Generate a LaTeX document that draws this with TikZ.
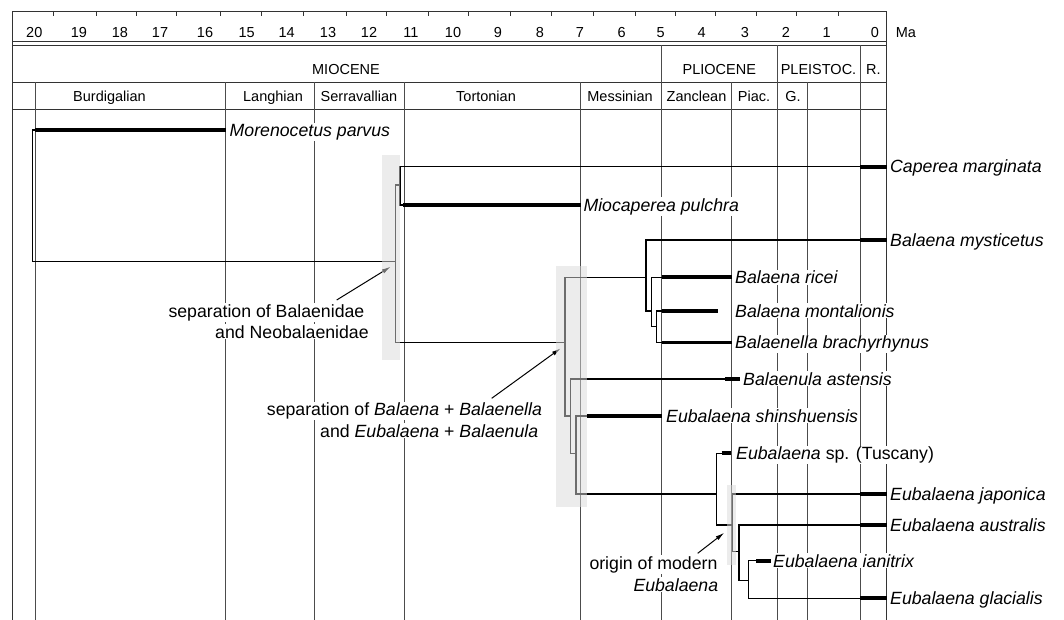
\documentclass[tikz,border=0pt]{standalone}
\usepackage{fontspec}
\setmainfont{Liberation Sans}
\usetikzlibrary{arrows.meta}
\begin{document}
\begin{tikzpicture}[x=1pt,y=-1pt,
  framel/.style={line width=0.8pt, black!80},
  gridl/.style={line width=0.8pt, black!70},
  branch/.style={line width=1.1pt, black},
  barl/.style={line width=3.8pt, black},
  hdr/.style={anchor=base, inner sep=0pt, font=\fontsize{14.5}{17}\selectfont},
  spec/.style={anchor=base west, inner sep=1pt, fill=white, yshift=-6.3pt, font=\fontsize{17.7}{20}\selectfont\itshape},
  specup/.style={anchor=base west, inner sep=1pt, fill=white, yshift=-6.3pt, font=\fontsize{17.7}{20}\selectfont},
  ann/.style={anchor=base west, inner sep=1pt, fill=white, yshift=-6.3pt, font=\fontsize{17.7}{20}\selectfont},
  arr/.style={line width=1pt, -{Latex[length=9pt,width=4.5pt]}},
  shade/.style={fill=black!14, fill opacity=0.5}
]
\useasboundingbox (0,0) rectangle (1064,620);
\fill[white] (0,0) rectangle (1064,620);

% ---- header frame ----
\draw[framel] (12.3,625) -- (12.3,11) -- (886.7,11) -- (886.7,625);
\foreach \yy in {41,45.3,82.4,109.3} \draw[framel] (12.3,\yy) -- (886.7,\yy);
\foreach \xx in {53.3,96,136.7,176.7,220,261.7,303.3,346.7,386,428.3,468.3,510,551.7,593.3,635,675,715,756,796.7,838.3}
  \draw[framel] (\xx,11) -- (\xx,16.5);
\foreach \xx in {661.7,777,860} \draw[gridl] (\xx,45.3) -- (\xx,625);
\foreach \xx in {35,225.7,314,404,580.7,731,807.7} \draw[gridl] (\xx,82.4) -- (\xx,625);

% ---- axis numbers ----
\foreach \xx/\t in {34.3/20,79/19,120/18,160/17,205/16,246.7/15,286.7/14,328/13,369/12,411/11,453/10,498/9,540/8,580/7,621.7/6,660.7/5,701.7/4,745/3,786/2,826.7/1,875/0}
  \node[hdr, name=num\t] at (\xx,37.4) {\t};
\node[hdr, anchor=base west] (ma) at (895.7,37.8) {Ma};

% ---- epochs ----
\node[hdr] (miocene) at (346,74.2) {MIOCENE};
\node[hdr] (pliocene) at (719.3,74.2) {PLIOCENE};
\node[hdr] (pleistoc) at (818.5,74.2) {PLEISTOC.};
\node[hdr] (recent) at (873.3,74.2) {R.};

% ---- stages ----
\node[hdr] (burd) at (109.5,101.7) {Burdigalian};
\node[hdr] (lang) at (273,101.7) {Langhian};
\node[hdr] (serr) at (359,101.7) {Serravallian};
\node[hdr] (tort) at (486,101.7) {Tortonian};
\node[hdr] (mess) at (620,101.7) {Messinian};
\node[hdr] (zanc) at (696.5,101.7) {Zanclean};
\node[hdr] (piac) at (754,101.7) {Piac.};
\node[hdr] (gela) at (793,101.7) {G.};

% ---- tree nodes ----
\coordinate (R)  at (32.3,196);
\coordinate (N1) at (395.7,261.7);
\coordinate (N2) at (400,185);
\coordinate (D)  at (565,342.7);
\coordinate (A)  at (646,277.3);
\coordinate (B)  at (651.7,311);
\coordinate (C)  at (656.7,326.7);
\coordinate (E)  at (570.7,416);
\coordinate (F)  at (576,453.3);
\coordinate (G)  at (716.7,494);
\coordinate (H)  at (732.7,525);
\coordinate (I)  at (739,551.7);
\coordinate (J)  at (748.3,580.7);
% tips (start of range bar) and ends
\coordinate (tMor) at (35,130);      \coordinate (eMor) at (225.7,130);
\coordinate (tCap) at (860,166.7);   \coordinate (eCap) at (886.7,166.7);
\coordinate (tMio) at (403,205);     \coordinate (eMio) at (580.7,205);
\coordinate (tMys) at (860,240);     \coordinate (eMys) at (886.7,240);
\coordinate (tRic) at (661.7,277.3); \coordinate (eRic) at (731.7,277.3);
\coordinate (tMon) at (661.7,311);   \coordinate (eMon) at (718.3,311);
\coordinate (tBra) at (661.7,342.5); \coordinate (eBra) at (731.7,342.5);
\coordinate (tAst) at (725,379);     \coordinate (eAst) at (740,379);
\coordinate (tShi) at (586.7,416);   \coordinate (eShi) at (661.7,416);
\coordinate (tTus) at (721.7,453.3); \coordinate (eTus) at (730.7,453.3);
\coordinate (tJap) at (860,494);     \coordinate (eJap) at (886.7,494);
\coordinate (tAus) at (860,525);     \coordinate (eAus) at (886.7,525);
\coordinate (tIan) at (756,560.7);   \coordinate (eIan) at (770.7,560.7);
\coordinate (tGla) at (860,598.3);   \coordinate (eGla) at (886.7,598.3);

% ---- branches ----
\draw[branch] (R) |- (tMor);  \draw[branch] (R) |- (N1);
\draw[branch] (N1) |- (N2);   \draw[branch] (N1) |- (D);
\draw[branch] (N2) |- (tCap); \draw[branch] (N2) |- (tMio);
\draw[branch] (D) |- (A);     \draw[branch] (D) |- (E);
\draw[branch] (A) |- (tMys);  \draw[branch] (A) |- (B);
\draw[branch] (B) |- (tRic);  \draw[branch] (B) |- (C);
\draw[branch] (C) |- (tMon);  \draw[branch] (C) |- (tBra);
\draw[branch] (E) |- (tAst);  \draw[branch] (E) |- (F);
\draw[branch] (F) |- (tShi);  \draw[branch] (F) |- (G);
\draw[branch] (G) |- (tTus);  \draw[branch] (G) |- (H);
\draw[branch] (H) |- (tJap);  \draw[branch] (H) |- (I);
\draw[branch] (I) |- (tAus);  \draw[branch] (I) |- (J);
\draw[branch] (J) |- (tIan);  \draw[branch] (J) |- (tGla);

% ---- range bars ----
\foreach \s in {Mor,Cap,Mio,Mys,Ric,Mon,Bra,Ast,Shi,Tus,Jap,Aus,Ian,Gla}
  \draw[barl] (t\s) -- (e\s);

% ---- species labels ----
\node[spec] (lMor) at (228.5,130) {Morenocetus parvus};
\node[spec] (lCap) at (889,166.7) {Caperea marginata};
\node[spec] (lMio) at (582.3,205) {Miocaperea pulchra};
\node[spec] (lMys) at (889,240) {Balaena mysticetus};
\node[spec] (lRic) at (734,277.3) {Balaena ricei};
\node[spec] (lMon) at (734,311) {Balaena montalionis};
\node[spec] (lBra) at (734,342.5) {Balaenella brachyrhynus};
\node[spec] (lAst) at (742,379) {Balaenula astensis};
\node[spec] (lShi) at (665,416) {Eubalaena shinshuensis};
\node[specup] (lTus) at (735,453.3) {\textit{Eubalaena} sp. (Tuscany)};
\node[spec] (lJap) at (889,494) {Eubalaena japonica};
\node[spec] (lAus) at (889,525) {Eubalaena australis};
\node[spec] (lIan) at (772,560.7) {Eubalaena ianitrix};
\node[spec] (lGla) at (889,598.3) {Eubalaena glacialis};

% ---- annotations ----
\node[ann] (a1)  at (167.3,310.7) {separation of Balaenidae};
\node[ann] (a1b) at (214,331.7) {and Neobalaenidae};
\node[ann] (a2)  at (265.7,409.3) {separation of \textit{Balaena} + \textit{Balaenella}};
\node[ann] (a2b) at (319,430.7) {and \textit{Eubalaena} + \textit{Balaenula}};
\node[ann] (a3)  at (588.3,562.7) {origin of modern};
\node[ann] (a3b) at (632.3,585) {\textit{Eubalaena}};

\coordinate (ar1s) at (336.7,300);   \coordinate (ar1e) at (390.7,266.7);
\coordinate (ar2s) at (491.7,398.3); \coordinate (ar2e) at (560.7,348.3);
\coordinate (ar3s) at (697.7,553.3); \coordinate (ar3e) at (724.3,532.7);
\draw[arr] (ar1s) -- (ar1e);
\draw[arr] (ar2s) -- (ar2e);
\draw[arr] (ar3s) -- (ar3e);

% ---- shaded uncertainty bars ----
\fill[shade] (382.3,155) rectangle (400,360);
\fill[shade] (556,265.7) rectangle (586.7,506.7);
\fill[shade] (727.3,485) rectangle (735.7,565);
\end{tikzpicture}
\end{document}
